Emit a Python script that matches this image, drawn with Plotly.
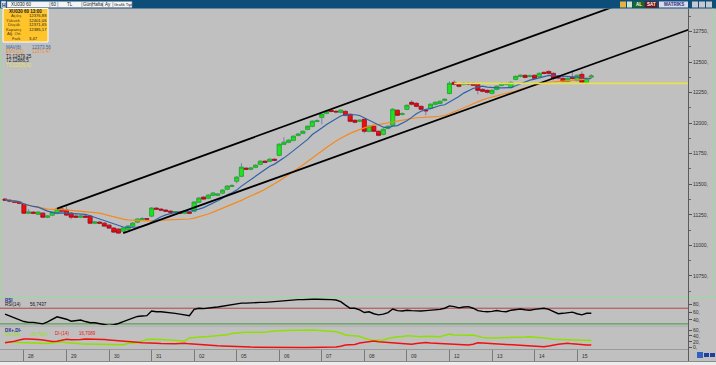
import plotly.graph_objects as go
import pandas as pd

# ---------------- data ----------------
day_labels = ["28", "29", "30", "31", "02", "05", "06", "07", "08", "09", "12", "13", "14", "15"]
day_start_bar = [4, 13, 22, 31, 40, 49, 58, 67, 76, 85, 94, 103, 112, 121]

opens = [11378, 11369, 11361, 11353, 11337, 11263, 11271, 11255, 11263, 11230,
         11247, 11263, 11296, 11288, 11263, 11239, 11230, 11239, 11239, 11181,
         11190, 11181, 11165, 11141, 11132, 11116, 11132, 11157, 11190, 11214,
         11218, 11239, 11304, 11296, 11288, 11279, 11271, 11271, 11263, 11271,
         11279, 11353, 11394, 11386, 11410, 11410, 11427, 11459, 11484, 11525,
         11565, 11631, 11623, 11639, 11663, 11688, 11688, 11704, 11737, 11827,
         11843, 11860, 11900, 11917, 11949, 11974, 12015, 12047, 12080, 12105,
         12096, 12088, 12096, 12072, 12023, 12015, 12031, 11933, 11974, 11933,
         11909, 11958, 11982, 12105, 12072, 12113, 12170, 12162, 12137, 12105,
         12121, 12154, 12162, 12186, 12243, 12333, 12317, 12317, 12325, 12325,
         12317, 12276, 12268, 12243, 12276, 12309, 12317, 12292, 12358, 12382,
         12391, 12382, 12391, 12382, 12415, 12423, 12407, 12374, 12366, 12342,
         12374, 12350, 12399, 12333, 12376.88]
highs = [11386, 11378, 11369, 11361, 11345, 11296, 11279, 11279, 11271, 11247,
         11279, 11304, 11312, 11320, 11271, 11255, 11247, 11247, 11247, 11198,
         11198, 11190, 11173, 11149, 11141, 11149, 11165, 11190, 11222, 11230,
         11222, 11312, 11312, 11304, 11296, 11288, 11279, 11279, 11288, 11279,
         11361, 11394, 11402, 11418, 11435, 11427, 11459, 11492, 11500, 11565,
         11672, 11639, 11639, 11663, 11696, 11696, 11712, 11712, 11835, 11884,
         11868, 11900, 11917, 11941, 11982, 12023, 12031, 12080, 12105, 12113,
         12105, 12113, 12105, 12080, 12031, 12031, 12039, 11982, 11982, 11941,
         11958, 11982, 12121, 12113, 12088, 12154, 12186, 12170, 12145, 12113,
         12162, 12178, 12186, 12203, 12342, 12350, 12325, 12333, 12333, 12333,
         12333, 12284, 12276, 12276, 12309, 12333, 12333, 12342, 12391, 12399,
         12399, 12399, 12399, 12415, 12423, 12431, 12415, 12382, 12382, 12374,
         12431, 12399, 12423, 12374, 12401.06]
lows = [11361, 11353, 11345, 11337, 11255, 11255, 11255, 11247, 11222, 11222,
        11239, 11255, 11271, 11239, 11214, 11222, 11222, 11222, 11173, 11173,
        11173, 11149, 11132, 11100, 11092, 11108, 11124, 11149, 11181, 11206,
        11206, 11230, 11288, 11279, 11271, 11263, 11263, 11255, 11255, 11255,
        11271, 11345, 11369, 11378, 11402, 11402, 11418, 11451, 11476, 11508,
        11557, 11614, 11614, 11631, 11655, 11672, 11680, 11688, 11729, 11819,
        11835, 11851, 11892, 11909, 11941, 11966, 12007, 11990, 12072, 12088,
        12080, 12080, 12056, 12007, 11998, 12007, 11917, 11925, 11925, 11892,
        11900, 11949, 11974, 12056, 12064, 12105, 12145, 12129, 12105, 12064,
        12113, 12145, 12154, 12178, 12235, 12309, 12292, 12309, 12309, 12301,
        12235, 12252, 12243, 12235, 12268, 12301, 12309, 12284, 12350, 12374,
        12366, 12374, 12358, 12374, 12399, 12399, 12350, 12358, 12333, 12333,
        12358, 12342, 12325, 12317, 12371.65]
closes = [11369, 11361, 11353, 11345, 11263, 11271, 11263, 11271, 11230, 11239,
          11271, 11296, 11279, 11247, 11230, 11230, 11239, 11230, 11181, 11190,
          11181, 11157, 11141, 11108, 11100, 11141, 11157, 11181, 11214, 11218,
          11214, 11304, 11296, 11288, 11279, 11271, 11275, 11263, 11279, 11263,
          11353, 11386, 11378, 11410, 11427, 11418, 11451, 11484, 11488, 11557,
          11639, 11623, 11631, 11655, 11688, 11680, 11704, 11696, 11827, 11843,
          11860, 11892, 11909, 11933, 11974, 12015, 12019, 12072, 12096, 12096,
          12092, 12105, 12064, 12015, 12007, 12023, 11933, 11974, 11933, 11900,
          11949, 11974, 12113, 12064, 12076, 12145, 12154, 12137, 12113, 12101,
          12154, 12170, 12178, 12194, 12325, 12317, 12301, 12325, 12321, 12309,
          12268, 12260, 12252, 12268, 12301, 12325, 12321, 12333, 12382, 12391,
          12374, 12386, 12366, 12407, 12407, 12407, 12366, 12370, 12342, 12366,
          12366, 12391, 12333, 12366, 12385.17]

rsi14 = [55, 50, 46, 40, 36, 34, 34, 32, 30, 35,
         42, 48, 45, 42, 37, 39, 40, 36, 33, 33,
         31, 29, 26, 28, 31, 36, 40, 46, 49, 50,
         51, 63, 61, 61, 60, 59, 57, 55, 53, 51,
         67, 70, 69, 71, 72, 73, 75, 78, 80, 82,
         83, 83, 84, 84, 85, 85, 86, 87, 89, 90,
         91, 91, 92, 92, 93, 93, 93, 93, 93, 92,
         91, 87, 78, 70, 70, 66, 59, 61, 56, 53,
         55, 59, 68, 64, 63, 65, 64, 63, 63, 64,
         65, 65, 67, 70, 76, 74, 71, 73, 74, 70,
         64, 62, 61, 62, 64, 62, 61, 65, 67, 68,
         66, 65, 67, 69, 70, 67, 61, 56, 57, 59,
         60, 56, 53, 57, 57]
di_plus = [18, 19, 20, 18, 17, 16, 15, 14, 12.5, 14,
           17, 19, 20, 17, 15, 14, 13, 12.5, 12, 11.5,
           11, 10, 9, 9, 9.5, 10, 14, 16, 17, 22,
           28, 29, 29.5, 28, 27, 26, 25, 24, 23, 33,
           35, 36, 37, 38, 39, 40, 40.5, 44, 48, 51,
           51.5, 52, 52, 52, 52, 52, 55, 57, 57.5, 58,
           58.5, 59, 59, 59.5, 60, 60, 59, 58, 57, 55.5,
           54, 50, 43, 41, 40, 39, 32, 28, 24, 25,
           26, 31, 35, 37, 38, 40.5, 40, 38, 37, 38.5,
           39.5, 38, 37, 42, 46, 43, 42, 41, 42, 43,
           38, 35, 33, 32, 33, 34, 34, 34, 34, 35,
           36, 37, 36, 35, 33, 31, 29, 28.5, 28.5, 28.5,
           28, 27, 26, 25, 24]
di_minus = [17, 19, 22, 26, 29.5, 29.5, 29.5, 28, 26, 24,
            21, 22, 26, 28.5, 27, 26, 27.5, 29.5, 29.5, 29.5,
            29.5, 28, 26.5, 25.5, 24, 23, 21.5, 20, 18.5, 17,
            15.5, 15, 15, 14, 13, 12.5, 13, 14, 15, 13,
            11.5, 10.5, 9.2, 8.5, 7.5, 6.5, 6, 5, 4.5, 3.5,
            3, 2.5, 2, 1.8, 1.5, 1.5, 1.5, 1.5, 1.2, 1.2,
            1, 1, 1, 1, 1, 1, 1.2, 1.5, 1.5, 1.5,
            2, 5, 9, 10, 11, 16, 18, 22, 23, 20.5,
            19, 17.5, 16, 14, 12.5, 12, 11.5, 14, 17, 18,
            16, 15, 14, 12.5, 12, 11.5, 10.5, 10, 9.5, 12,
            17, 16, 15, 14, 12.5, 12, 11.5, 11, 10, 9.2,
            8.5, 7.5, 6, 5, 3.5, 6, 9.5, 12, 13.5, 15,
            13, 11, 9.2, 9.2, 9.2]

price_ticks = [10750, 11000, 11250, 11500, 11750, 12000, 12250, 12500, 12750]
price_tick_text = ["10750,", "11000,", "11250,", "11500,", "11750,", "12000,", "12250,", "12500,", "12750,"]
price_minor_ticks = [10625, 10875, 11125, 11375, 11625, 11875, 12125, 12375, 12625, 12875]
rsi_ticks = [40, 60, 80]
rsi_tick_text = ["40,", "60,", "80,"]
dmi_ticks = [0, 20, 40, 60]
dmi_tick_text = ["0,", "20,", "40,", "60,"]

# trend lines (bar index, price) and horizontal level
trend_lower_x = [25, 145]
trend_lower_y = [11100, 12771]
trend_upper_x = [11, 132]
trend_upper_y = [11300, 12999]
level_t3 = 12325.42
level_t3_x = [95, 145]
rsi_levels = [70, 30]

info_rows = ["Açılış", "Yüksek", "Düşük", "Kapanış", "Ağ. Ort.", "Fark"]
info_vals = ["12376,88", "12401,06", "12371,65", "12385,17", "", "3,47"]

# ---------------- figure ----------------
W, H = 716, 365
def px(x): return x / W
def py(y): return 1 - y / H

bars = list(range(len(closes)))
cs = pd.Series(closes)
mav8 = cs.rolling(8, min_periods=1).mean()
ma21 = cs.rolling(21, min_periods=1).mean()
body_hi = [max(o, c) for o, c in zip(opens, closes)]
body_lo = [min(o, c) for o, c in zip(opens, closes)]

fig = go.Figure()
# wicks
fig.add_trace(go.Candlestick(x=bars, open=opens, high=highs, low=lows, close=closes,
                             increasing=dict(line=dict(color="#7c7cb0", width=1), fillcolor="#7c7cb0"),
                             decreasing=dict(line=dict(color="#7c7cb0", width=1), fillcolor="#7c7cb0"),
                             showlegend=False, hoverinfo="skip", xaxis="x", yaxis="y"))
# bodies
fig.add_trace(go.Candlestick(x=bars, open=opens, high=body_hi, low=body_lo, close=closes,
                             increasing=dict(line=dict(color="#10b010", width=0.6), fillcolor="#22e022"),
                             decreasing=dict(line=dict(color="#b00000", width=0.6), fillcolor="#e81010"),
                             showlegend=False, xaxis="x", yaxis="y"))
fig.add_trace(go.Scatter(x=bars, y=ma21, mode="lines", line=dict(color="#f5891c", width=1.2),
                         showlegend=False, xaxis="x", yaxis="y"))
fig.add_trace(go.Scatter(x=bars, y=mav8, mode="lines", line=dict(color="#2f62a8", width=1.2),
                         showlegend=False, xaxis="x", yaxis="y"))
fig.add_trace(go.Scatter(x=trend_lower_x, y=trend_lower_y, mode="lines", line=dict(color="#000000", width=1.8),
                         showlegend=False, xaxis="x", yaxis="y"))
fig.add_trace(go.Scatter(x=trend_upper_x, y=trend_upper_y, mode="lines", line=dict(color="#000000", width=1.8),
                         showlegend=False, xaxis="x", yaxis="y"))
fig.add_trace(go.Scatter(x=level_t3_x, y=[level_t3, level_t3], mode="lines", line=dict(color="#e6e24a", width=1.6),
                         showlegend=False, xaxis="x", yaxis="y"))

# RSI panel
fig.add_trace(go.Scatter(x=[-2, 146], y=[rsi_levels[0]] * 2, mode="lines", line=dict(color="#b04848", width=1),
                         showlegend=False, xaxis="x2", yaxis="y2"))
fig.add_trace(go.Scatter(x=[-2, 146], y=[rsi_levels[1]] * 2, mode="lines", line=dict(color="#3f9a3f", width=1),
                         showlegend=False, xaxis="x2", yaxis="y2"))
fig.add_trace(go.Scatter(x=bars, y=rsi14, mode="lines", line=dict(color="#000000", width=1.4),
                         showlegend=False, xaxis="x2", yaxis="y2"))
# DMI panel
fig.add_trace(go.Scatter(x=bars, y=di_plus, mode="lines", line=dict(color="#8ee000", width=1.5),
                         showlegend=False, xaxis="x3", yaxis="y3"))
fig.add_trace(go.Scatter(x=bars, y=di_minus, mode="lines", line=dict(color="#f01010", width=1.5),
                         showlegend=False, xaxis="x3", yaxis="y3"))

xr = [-1.06, 144.45]
xdom = [0, px(688)]
axfont = dict(family="Liberation Sans", size=5, color="#303030")

shapes = []
def rect(x0, y0, x1, y1, fill, line=None, lw=0):
    shapes.append(dict(type="rect", xref="paper", yref="paper", x0=px(x0), x1=px(x1), y0=py(y1), y1=py(y0),
                       fillcolor=fill, line=dict(color=line or fill, width=lw), layer="above"))
def hline(x0, x1, y, color, w=1, layer="above"):
    shapes.append(dict(type="line", xref="paper", yref="paper", x0=px(x0), x1=px(x1), y0=py(y), y1=py(y),
                       line=dict(color=color, width=w), layer=layer))
def vline(x, y0, y1, color, w=1, layer="above"):
    shapes.append(dict(type="line", xref="paper", yref="paper", x0=px(x), x1=px(x), y0=py(y0), y1=py(y1),
                       line=dict(color=color, width=w), layer=layer))

# toolbar
rect(0, 0, 716, 8.5, "#0d4d7a")
for a, b in [(7, 50), (50, 58), (58, 82), (82, 92), (92, 103), (103, 113), (113, 132)]:
    rect(a, 1.5, b, 7.5, "#f4f4f4", "#8894a0", 0.5)
rect(1, 1, 6, 8, "#dfe6f0", "#506080", 0.5)
rect(620, 1.5, 626, 7.5, "#e8b040")
rect(627, 1.5, 632, 7.5, "#d0e0d0")
rect(633, 1.5, 644, 7.5, "#1c6a1c")
rect(645, 1.5, 657, 7.5, "#7a1010")
rect(659, 1.5, 688, 7.5, "#dcdce8")
rect(692, 1.5, 698, 7.5, "#c8c8d0")
rect(699, 1.5, 705, 7.5, "#c8c8d0")
rect(706, 1.5, 712, 7.5, "#c8c8d0")
# info box
rect(3, 8.5, 48, 42, "#ffc42a", "#ffffff", 1)
# borders / separators
hline(0, 716, 296.8, "#9fd89f", 1.2)
vline(713, 8.5, 296, "#9fd89f", 1.2)
vline(1, 8.5, 296, "#9fd89f", 1)
hline(0, 688, 326.2, "#a9a9a9", 0.8)
hline(0, 688, 349.5, "#9a9a9a", 1)
vline(688.5, 8.5, 361, "#5c5c5c", 1)
rect(0, 361.5, 716, 365, "#ececec")
hline(0, 716, 361.5, "#8a8a8a", 1)
rect(697, 352, 703, 358, "#3060c0")
rect(704, 353, 709, 357, "#2040a0")
rect(710, 353, 715, 357, "#2040a0")

ann = []
def txt(x, y, s, color="#202020", size=5, anchor="left", bold=False):
    ann.append(dict(xref="paper", yref="paper", x=px(x), y=py(y), text=("<b>%s</b>" % s) if bold else s,
                    showarrow=False, xanchor=anchor, yanchor="middle",
                    font=dict(family="Liberation Sans", size=size, color=color)))

# toolbar texts
txt(3.5, 4.5, "H", "#103070", 5, "center", True)
txt(9, 4.5, "XU030 60", "#202020", 4.5)
txt(54, 4.5, "60", "#202020", 4.5, "center")
txt(70, 4.5, "TL", "#202020", 4.5, "center")
txt(87, 4.5, "Gün", "#202020", 4.5, "center")
txt(97.5, 4.5, "Hafta", "#202020", 4.5, "center")
txt(108, 4.5, "Ay", "#202020", 4.5, "center")
txt(122.5, 4.5, "Grafik Tipi", "#202020", 4, "center")
txt(638.5, 4.5, "AL", "#ffffff", 4.5, "center", True)
txt(651, 4.5, "SAT", "#ffffff", 4.5, "center", True)
txt(673.5, 4.5, "MATRIKS", "#2a2a80", 4.5, "center", True)
# info box texts
txt(25.5, 12, "XU030 60 13:00", "#202020", 4.5, "center", True)
for k, (r, v) in enumerate(zip(info_rows, info_vals)):
    yy = 15.5 + k * 4.5
    txt(23, yy, r, "#4a3a10", 4.2, "right")
    txt(27, yy, v, "#202020", 4.2, "left")
# indicator legends
txt(4, 47, "MAV(8)", "#2f62a8", 4.5)
txt(30, 47, "12373,56", "#2f62a8", 4.5)
txt(4, 51.5, "EMV(21)", "#f08a20", 4.5)
txt(30, 51.5, "12371,47", "#f08a20", 4.5)
txt(4, 56.5, "T1:12479,25", "#101010", 4.5)
txt(4, 61, "T2:12886,5", "#101010", 4.5)
txt(4, 65.5, "T3:12325,42", "#e6e24a", 4.5)
txt(3, 300.5, "RSI", "#1a2a90", 4.5, bold=True)
txt(3, 304.5, "RSI(14)", "#101010", 4.5)
txt(28, 304.5, "56,7437", "#101010", 4.5)
txt(3, 330.5, "DX+,DI-", "#1a2a90", 4.5, bold=True)
txt(3, 334.5, "DI+(14)", "#8ee000", 4.5)
txt(29, 334.5, "24,7914", "#8ee000", 4.5)
txt(53, 333.5, "DI-(14)", "#f01010", 4.5)
txt(77, 333.5, "16,7089", "#f01010", 4.5)

# day labels under the DMI panel
for lab, b in zip(day_labels, day_start_bar):
    ann.append(dict(xref="x3", yref="paper", x=b, y=py(355.5), text=lab, showarrow=False,
                    xanchor="left", yanchor="middle", xshift=2.5,
                    font=dict(family="Liberation Sans", size=5, color="#303030")))

fig.update_layout(
    width=W, height=H, margin=dict(l=0, r=0, t=0, b=0),
    paper_bgcolor="#c0c0c0", plot_bgcolor="#c0c0c0",
    showlegend=False, hovermode=False,
    boxgap=0.15, boxgroupgap=0,
    xaxis=dict(domain=xdom, range=xr, anchor="y", showticklabels=False, showgrid=False, zeroline=False,
               rangeslider=dict(visible=False), ticks=""),
    xaxis2=dict(domain=xdom, range=xr, anchor="y2", matches="x", showticklabels=False, showgrid=False,
                zeroline=False, ticks=""),
    xaxis3=dict(domain=xdom, range=xr, anchor="y3", matches="x", showticklabels=False, showgrid=False,
                zeroline=False, tickmode="array", tickvals=day_start_bar, ticks="outside", ticklen=11,
                tickcolor="#7a7a7a", tickwidth=1),
    yaxis=dict(domain=[py(296), py(8.5)], range=[10585, 12938], side="right", anchor="x",
               tickmode="array", tickvals=price_ticks, ticktext=price_tick_text, ticks="outside",
               ticklen=3, tickcolor="#555555", tickfont=axfont, showgrid=False, zeroline=False,
               minor=dict(tickmode="array", tickvals=price_minor_ticks,
                          ticks="outside", ticklen=2, tickcolor="#666666")),
    yaxis2=dict(domain=[py(325), py(298)], range=[27.2, 96.1], side="right", anchor="x2",
                tickmode="array", tickvals=rsi_ticks, ticktext=rsi_tick_text, ticks="outside",
                ticklen=3, tickcolor="#555555", tickfont=axfont, showgrid=False, zeroline=False),
    yaxis3=dict(domain=[py(349), py(327)], range=[-4.4, 70.2], side="right", anchor="x3",
                tickmode="array", tickvals=dmi_ticks, ticktext=dmi_tick_text, ticks="outside",
                ticklen=3, tickcolor="#555555", tickfont=axfont, showgrid=False, zeroline=False),
    shapes=shapes, annotations=ann,
)

fig.write_html("out.html")
